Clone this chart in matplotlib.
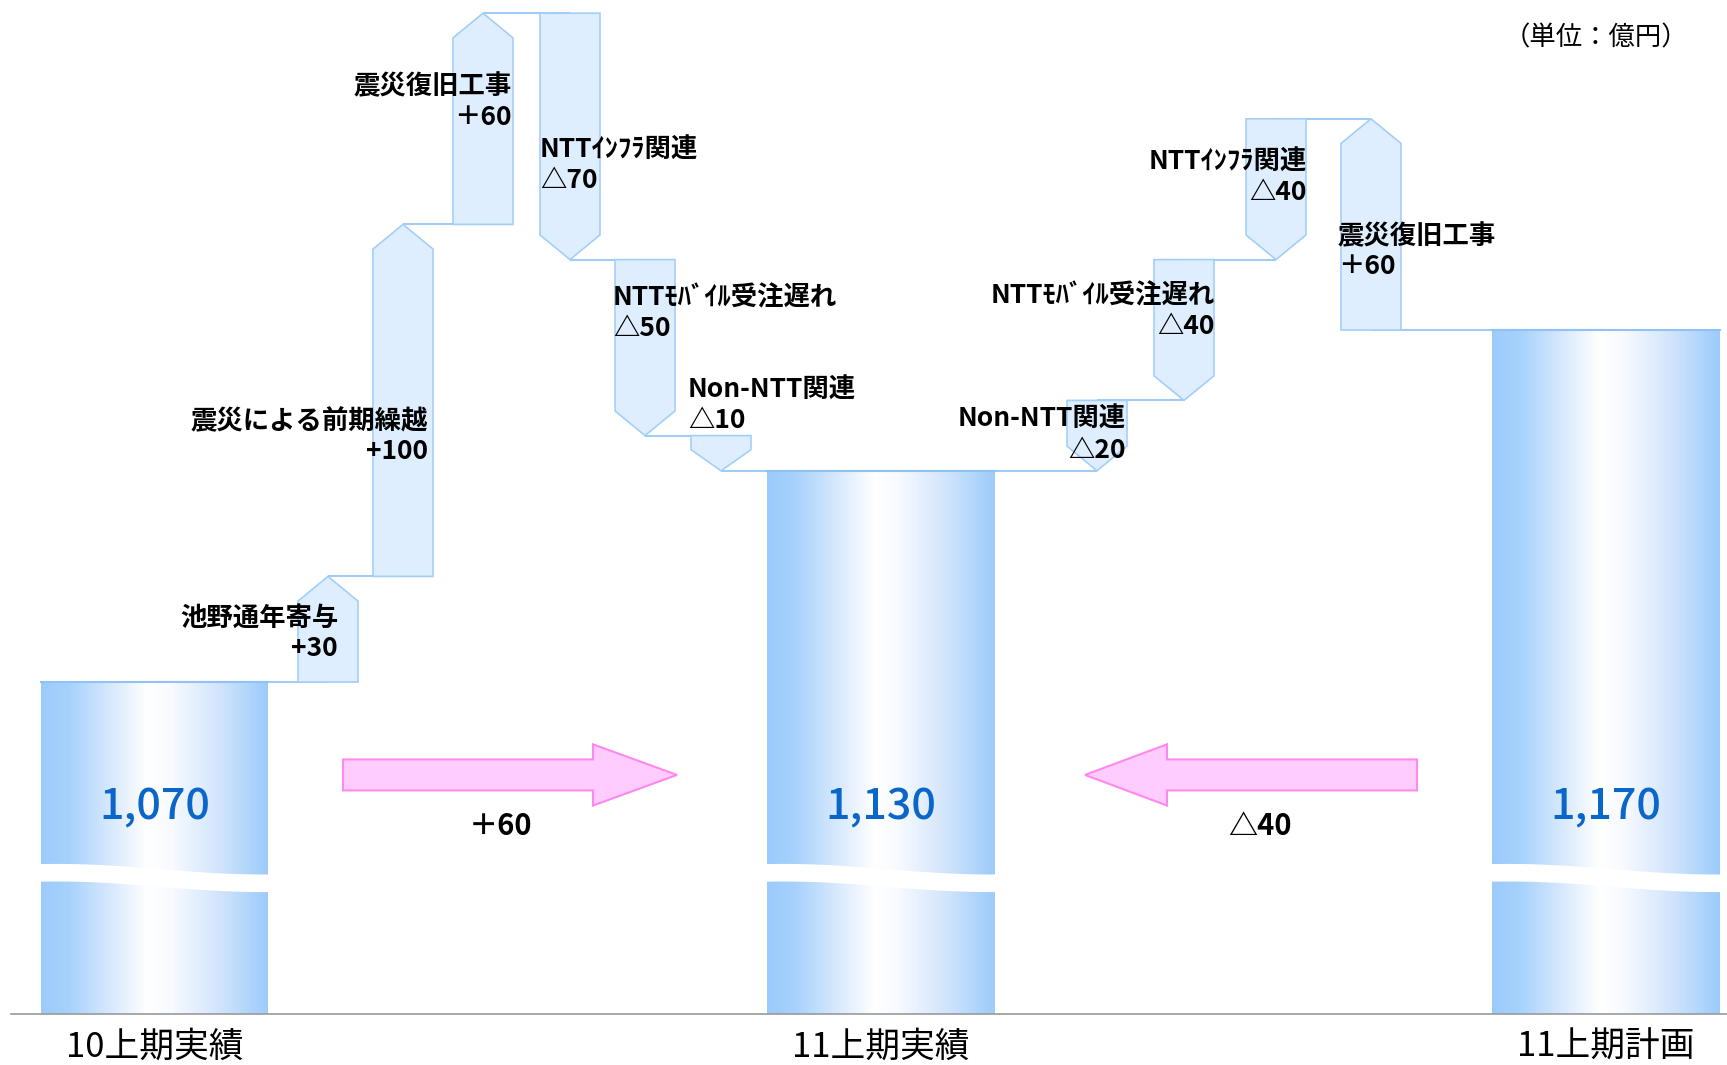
import numpy as np
import matplotlib
matplotlib.use('Agg')
import matplotlib.pyplot as plt
from matplotlib.patches import Polygon
from matplotlib.colors import LinearSegmentedColormap

plt.rcParams['font.family'] = ['Noto Sans CJK JP', 'DejaVu Sans']

# ---------------- data ----------------
total_labels = ['10上期実績', '11上期実績', '11上期計画']
total_values = [1070, 1130, 1170]
total_texts = ['1,070', '1,130', '1,170']

left_items = ['池野通年寄与', '震災による前期繰越', '震災復旧工事',
              'NTTｲﾝﾌﾗ関連', 'NTTﾓﾊﾞｲﾙ受注遅れ', 'Non-NTT関連']
left_deltas = [30, 100, 60, -70, -50, -10]
left_texts = ['+30', '+100', '＋60', '△70', '△50', '△10']

right_items = ['Non-NTT関連', 'NTTﾓﾊﾞｲﾙ受注遅れ', 'NTTｲﾝﾌﾗ関連', '震災復旧工事']
right_deltas = [-20, -40, -40, 60]
right_texts = ['△20', '△40', '△40', '＋60']

diff_texts = ['＋60', '△40']
unit_text = '（単位：億円）'

# ---------------- layout ----------------
W, H = 1727, 1065
PX_PER_UNIT = 3.52
Y_TOP = 1070 + 682 / PX_PER_UNIT
Y_BOT = 1070 - (H - 682) / PX_PER_UNIT
BASE = 1070 - (1014 - 682) / PX_PER_UNIT
BREAK_C = 1070 - (878 - 682) / PX_PER_UNIT

big_x = [(41, 268), (767, 995), (1492, 1720)]
left_x0 = [298, 373, 453, 540, 615, 691]
right_x0 = [1067, 1154, 1246, 1341]
SMALL_W = 60
HEAD = 7.0

# label anchors: (x, ha, first line y)
left_lab = [(338, 'right', 1088.0), (428, 'right', 1144.0), (512, 'right', 1239.0),
            (540, 'left', 1221.0), (613, 'left', 1179.0), (688, 'left', 1153.0)]
right_lab = [(1126, 'right', 1144.5), (1215, 'right', 1179.6),
             (1307, 'right', 1217.7), (1338, 'left', 1196.5)]
LINE_GAP = 8.6
LAB_FS = 19

EDGE = '#a3cff8'
FILL = '#dfeeff'
CONN = '#9fcdf8'

fig = plt.figure(figsize=(W / 100, H / 100), dpi=100)
ax = fig.add_axes([0, 0, 1, 1])
ax.axis('off')

cmap = LinearSegmentedColormap.from_list('barg', [
    (0.0, '#9ccbfb'), (0.12, '#a6d1fc'), (0.30, '#d6e8fd'), (0.47, '#ffffff'),
    (0.58, '#f7faff'), (0.80, '#cfe3fc'), (1.0, '#9ccbfb')])
grad = np.linspace(0, 1, 256)[np.newaxis, :]

# ---- big bars ----
for (x0, x1), v, t, lab in zip(big_x, total_values, total_texts, total_labels):
    ax.imshow(grad, extent=[x0, x1, BASE, v], aspect='auto', cmap=cmap,
              zorder=2, interpolation='bilinear')
    ax.plot([x0, x1], [v, v], color='#8fc3f7', lw=1.5, zorder=2.5)
    # wavy break
    xs = np.linspace(x0 - 2, x1 + 2, 80)
    tt = (xs - x0) / (x1 - x0)
    c = BREAK_C + 1.5 * np.cos(np.pi * tt * 1.1 - 0.25)
    top = c + 2.5
    bot = c - 2.5
    poly = np.column_stack([np.r_[xs, xs[::-1]], np.r_[top, bot[::-1]]])
    ax.add_patch(Polygon(poly, closed=True, facecolor='white', edgecolor='none', zorder=2.6))
    xc = (x0 + x1) / 2
    ax.text(xc, 1034.4, t, color='#0a66c8', fontsize=31, fontweight='medium',
            ha='center', va='center', zorder=5)
    ax.text(xc, 966.3, lab, color='black', fontsize=25, ha='center', va='center', zorder=5)

# ---- small arrow-shaped bars ----
def arrow_poly(x0, s, e):
    x1 = x0 + SMALL_W
    xc = x0 + SMALL_W / 2
    h = min(HEAD, 0.6 * abs(e - s))
    if e > s:
        return [(x0, s), (x1, s), (x1, e - h), (xc, e), (x0, e - h)]
    return [(x0, s), (x1, s), (x1, e + h), (xc, e), (x0, e + h)]

# element sequence: (center x, left level, right level)
seq = [((big_x[0][0] + big_x[0][1]) / 2, total_values[0], total_values[0])]
s = total_values[0]
for x0, d, name, txt, (lx, ha, ly) in zip(left_x0, left_deltas, left_items, left_texts, left_lab):
    e = s + d
    ax.add_patch(Polygon(arrow_poly(x0, s, e), closed=True, facecolor=FILL,
                         edgecolor=EDGE, lw=1.2, zorder=3))
    seq.append((x0 + SMALL_W / 2, s, e))
    ax.text(lx, ly, name, fontsize=LAB_FS, fontweight='bold', ha=ha, va='center', zorder=5)
    ax.text(lx, ly - LINE_GAP, txt, fontsize=LAB_FS, fontweight='bold', ha=ha, va='center', zorder=5)
    s = e
seq.append(((big_x[1][0] + big_x[1][1]) / 2, total_values[1], total_values[1]))

# right side: start from plan and go leftwards
right_levels = []
s = total_values[2]
for d in right_deltas[::-1]:
    right_levels.append((s, s + d))
    s = s + d
right_levels = right_levels[::-1]
for x0, (s, e), name, txt, (lx, ha, ly) in zip(right_x0, right_levels, right_items, right_texts, right_lab):
    ax.add_patch(Polygon(arrow_poly(x0, s, e), closed=True, facecolor=FILL,
                         edgecolor=EDGE, lw=1.2, zorder=3))
    seq.append((x0 + SMALL_W / 2, e, s))
    ax.text(lx, ly, name, fontsize=LAB_FS, fontweight='bold', ha=ha, va='center', zorder=5)
    ax.text(lx, ly - LINE_GAP, txt, fontsize=LAB_FS, fontweight='bold', ha=ha, va='center', zorder=5)
seq.append(((big_x[2][0] + big_x[2][1]) / 2, total_values[2], total_values[2]))

for (xa, _, ra), (xb, lb, _) in zip(seq[:-1], seq[1:]):
    ax.plot([xa, xb], [ra, ra], color=CONN, lw=1.5, zorder=1, solid_capstyle='butt')

# ---- pink difference arrows ----
AR_C = 1043.6
BODY = 4.4
HEADH = 8.7
def big_arrow(tail, head_start, tip):
    return [(tail, AR_C + BODY), (head_start, AR_C + BODY), (head_start, AR_C + HEADH),
            (tip, AR_C), (head_start, AR_C - HEADH), (head_start, AR_C - BODY),
            (tail, AR_C - BODY)]

for (tail, hs, tip), txt, tx in zip([(343, 593, 677), (1417, 1167, 1085)], diff_texts, [501, 1260]):
    ax.add_patch(Polygon(big_arrow(tail, hs, tip), closed=True, facecolor='#ffccff',
                         edgecolor='#ff88ee', lw=1.5, zorder=3))
    ax.text(tx, 1029.0, txt, fontsize=21, fontweight='bold', ha='center', va='center', zorder=5)

# baseline
ax.plot([11, W], [BASE, BASE], color='#9a9a9a', lw=1.2, zorder=4)

ax.text(1688, 1253.0, unit_text, fontsize=19, ha='right', va='center', zorder=5)

ax.set_xlim(0, W)
ax.set_ylim(Y_BOT, Y_TOP)
fig.savefig('out.png', dpi=100, facecolor='white')
